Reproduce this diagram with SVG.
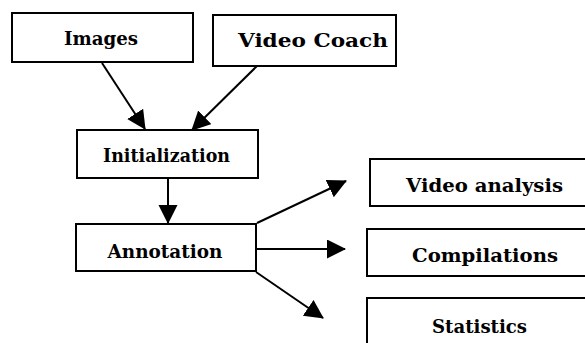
<svg xmlns="http://www.w3.org/2000/svg" width="585" height="343" viewBox="0 0 585 343">
  <style>
    .box { fill: #fff; stroke: #000; stroke-width: 2; }
    .lbl { font-family: "DejaVu Serif", "Liberation Serif", serif; font-size: 18px; font-weight: bold; fill: #000; text-anchor: middle; }
    .edge { stroke: #000; stroke-width: 2; fill: none; marker-end: url(#head); }
  </style>
  <defs>
    <marker id="head" markerUnits="userSpaceOnUse" markerWidth="20" markerHeight="20" refX="18" refY="9.5" orient="auto" viewBox="0 0 20 20">
      <path d="M0,0 L19,9.5 L0,19 z" fill="#000"/>
    </marker>
  </defs>
  <rect width="585" height="343" fill="#fff"/>

  <g id="connectors">
    <line class="edge" x1="102" y1="63" x2="145" y2="129"/>
    <line class="edge" x1="257" y1="66" x2="192" y2="130"/>
    <line class="edge" x1="168" y1="178" x2="168" y2="223"/>
    <line class="edge" x1="257" y1="223" x2="346" y2="181"/>
    <line class="edge" x1="256" y1="249" x2="345" y2="249"/>
    <line class="edge" x1="256" y1="272" x2="323" y2="318"/>
  </g>

  <g id="images">
    <rect class="box" x="12" y="13" width="181" height="49"/>
    <text class="lbl" x="101" y="45" textLength="74" lengthAdjust="spacingAndGlyphs">Images</text>
  </g>
  <g id="video-coach">
    <rect class="box" x="213" y="15" width="183" height="51"/>
    <text class="lbl" x="313" y="47" textLength="150" lengthAdjust="spacingAndGlyphs">Video Coach</text>
  </g>
  <g id="initialization">
    <rect class="box" x="77" y="130" width="181" height="48"/>
    <text class="lbl" x="166.5" y="162" textLength="127" lengthAdjust="spacingAndGlyphs">Initialization</text>
  </g>
  <g id="annotation">
    <rect class="box" x="76" y="224" width="180" height="47"/>
    <text class="lbl" x="165" y="258" textLength="115" lengthAdjust="spacingAndGlyphs">Annotation</text>
  </g>
  <g id="video-analysis">
    <rect class="box" x="370" y="159" width="240" height="47"/>
    <text class="lbl" x="484.5" y="192" textLength="157" lengthAdjust="spacingAndGlyphs">Video analysis</text>
  </g>
  <g id="compilations">
    <rect class="box" x="367" y="229" width="240" height="47"/>
    <text class="lbl" x="485" y="262" textLength="146" lengthAdjust="spacingAndGlyphs">Compilations</text>
  </g>
  <g id="statistics">
    <rect class="box" x="367" y="298" width="240" height="60"/>
    <text class="lbl" x="479.5" y="333" textLength="95" lengthAdjust="spacingAndGlyphs">Statistics</text>
  </g>
</svg>
